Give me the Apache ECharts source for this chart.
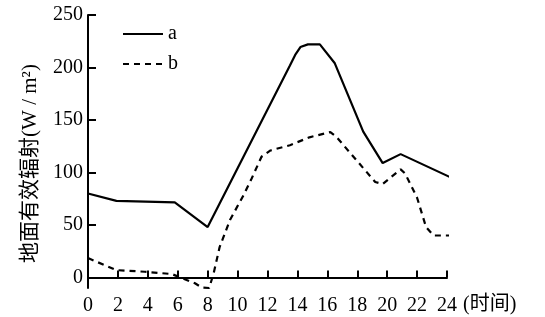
<!DOCTYPE html>
<html>
<head>
<meta charset="utf-8">
<script src="https://cdn.jsdelivr.net/npm/echarts@6/dist/echarts.min.js"></script>
<style>
  html, body { margin: 0; padding: 0; background: #fff; }
  #chart { width: 545px; height: 317px; }
</style>
</head>
<body>
<div id="chart"></div>
<script>
const seriesNames = ['a', 'b'];
const yTicks = [0, 50, 100, 150, 200, 250];

// series a (solid)
const timeA = [0, 1.9, 5.8, 8.0, 13.5, 13.85, 14.2, 14.7, 15.5, 16.5, 18.4, 19.7, 20.9, 24.6];
const valueA = [80, 73, 71.5, 48, 202, 212, 219.5, 222, 222, 204, 139, 109, 117.5, 93];

// series b (dashed)
const timeB = [0, 1.9, 3.8, 5.6, 7.15, 7.6, 8.1, 8.4, 8.8, 9.5, 10.4, 10.9, 11.6, 12.2, 13.5, 14.8, 16.2, 16.6, 19.2, 19.7, 20.9, 21.2, 22.0, 22.6, 23.1, 24.2];
const valueB = [18.5, 7, 5.5, 3.3, -5.5, -9.5, -10, 4, 29, 55, 78.5, 93, 115, 121, 126, 133.5, 138.5, 134, 91, 89, 103, 99, 76, 48, 40, 40];

const font = "'Liberation Serif', 'Noto Sans CJK SC', serif";
const ink = '#000';

const chart = echarts.init(document.getElementById('chart'));

function pairs(xs, ys) {
  return xs.map((x, i) => [x, ys[i]]);
}

chart.setOption({
  backgroundColor: '#fff',
  animation: false,
  textStyle: { fontFamily: font, color: ink },
  grid: { left: 88, right: 98, top: 15, bottom: 29 },
  legend: {
    orient: 'vertical',
    left: 117,
    top: 19,
    itemWidth: 40,
    itemHeight: 14,
    itemGap: 10,
    data: seriesNames,
    itemStyle: { opacity: 0 },
    textStyle: { fontFamily: font, fontSize: 20, color: ink }
  },
  xAxis: {
    type: 'value',
    min: 0,
    max: 24,
    interval: 2,
    name: '(时间)',
    nameLocation: 'end',
    nameGap: 16,
    nameTextStyle: { fontFamily: font, fontSize: 20, color: ink, verticalAlign: 'top', padding: [17, 0, 0, 0] },
    axisLine: { lineStyle: { color: ink, width: 2 } },
    axisTick: { inside: true, length: 7, lineStyle: { color: ink, width: 2 } },
    axisLabel: { color: ink, fontFamily: font, fontSize: 20, margin: 8 },
    splitLine: { show: false }
  },
  yAxis: {
    type: 'value',
    min: -10,
    max: 250,
    name: '地面有效辐射(W / m²)',
    nameLocation: 'middle',
    nameRotate: 90,
    nameGap: 47,
    nameTextStyle: { fontFamily: font, fontSize: 21, color: ink, padding: [0, 24, 0, 0] },
    axisLine: { show: true, lineStyle: { color: ink, width: 2 } },
    axisTick: { show: true, inside: true, length: 8, customValues: yTicks, lineStyle: { color: ink, width: 2 } },
    axisLabel: { color: ink, fontFamily: font, fontSize: 20, margin: 5, customValues: yTicks },
    splitLine: { show: false }
  },
  series: [
    {
      name: seriesNames[0],
      type: 'line',
      data: pairs(timeA, valueA),
      symbol: 'none',
      clip: false,
      lineStyle: { color: ink, width: 2.2 },
      itemStyle: { color: ink }
    },
    {
      name: seriesNames[1],
      type: 'line',
      data: pairs(timeB, valueB),
      symbol: 'none',
      clip: false,
      lineStyle: { color: ink, width: 2.2, type: [6, 5] },
      itemStyle: { color: ink }
    }
  ]
});
</script>
</body>
</html>
